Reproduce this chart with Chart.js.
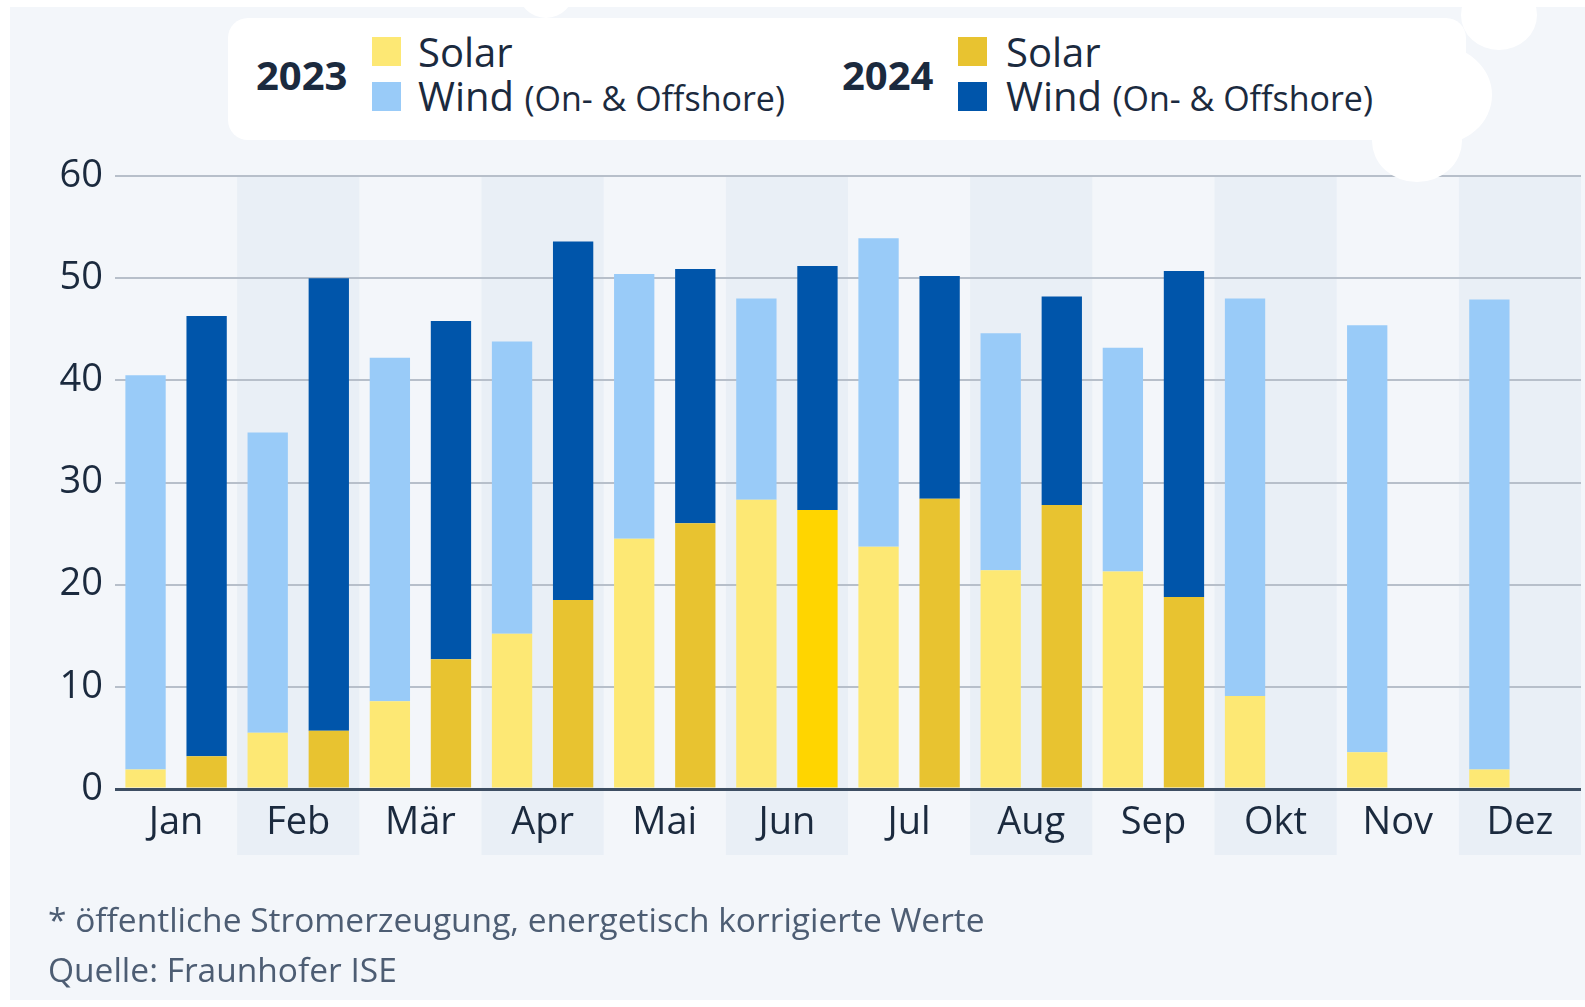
<!DOCTYPE html>
<html>
<head>
<meta charset="utf-8">
<script src="https://cdn.jsdelivr.net/npm/chart.js@4.4.1/dist/chart.umd.min.js"></script>
<style>
  body { margin: 0; width: 1585px; height: 1007px; overflow: hidden; background: #ffffff; font-family: "Open Sans", sans-serif; color: #1b2a3e; }
  #panel { position: absolute; left: 10px; top: 7px; width: 1575px; height: 993px; background: #f3f6fa; }
  #chart { position: absolute; left: 0; top: 0; }
  .blob { position: absolute; background: #ffffff; border-radius: 50%; }
  #legend { position: absolute; left: 228px; top: 18px; width: 1238px; height: 122px; background: #ffffff; border-radius: 20px; }
  .year { position: absolute; font-weight: 700; font-size: 40px; top: 32px; line-height: 50px; }
  .sw { position: absolute; width: 29px; height: 29px; }
  .lab { position: absolute; font-size: 40px; line-height: 44px; white-space: nowrap; }
  .lab small { font-size: 34px; }
  .note { position: absolute; left: 48px; font-size: 33.5px; color: #4d5d73; white-space: nowrap; }
</style>
</head>
<body>
<div id="panel"></div>
<canvas id="chart" width="1585" height="1007"></canvas>
<div id="legend">
  <div class="year" style="left:28px">2023</div>
  <div class="sw" style="left:144px;top:19px;background:#fde874"></div>
  <div class="sw" style="left:144px;top:64px;background:#99cbf8"></div>
  <div class="lab" style="left:190px;top:12px">Solar</div>
  <div class="lab" style="left:190px;top:56px">Wind <small>(On- &amp; Offshore)</small></div>
  <div class="year" style="left:614px">2024</div>
  <div class="sw" style="left:730px;top:19px;background:#e8c330"></div>
  <div class="sw" style="left:730px;top:64px;background:#0055aa"></div>
  <div class="lab" style="left:778px;top:12px">Solar</div>
  <div class="lab" style="left:778px;top:56px">Wind <small>(On- &amp; Offshore)</small></div>
</div>
<div class="blob" style="left:518px;top:-38px;width:56px;height:56px"></div>
<div class="blob" style="left:1461px;top:-20px;width:76px;height:70px"></div>
<div class="blob" style="left:1380px;top:45px;width:112px;height:100px"></div>
<div class="blob" style="left:1372px;top:100px;width:90px;height:82px"></div>
<div class="note" style="top:896px">* öffentliche Stromerzeugung, energetisch korrigierte Werte</div>
<div class="note" style="top:946px">Quelle: Fraunhofer ISE</div>
<script>
const months = ['Jan', 'Feb', 'Mär', 'Apr', 'Mai', 'Jun', 'Jul', 'Aug', 'Sep', 'Okt', 'Nov', 'Dez'];
const solar2023 = [1.9, 5.5, 8.6, 15.2, 24.5, 28.3, 23.7, 21.4, 21.3, 9.1, 3.6, 1.9];
const wind2023 = [38.6, 29.4, 33.6, 28.6, 25.9, 19.7, 30.2, 23.2, 21.9, 38.9, 41.8, 46.0];
const solar2024 = [3.2, 5.7, 12.7, 18.5, 26.0, 27.3, 28.4, 27.8, 18.8, null, null, null];
const wind2024 = [43.1, 44.3, 33.1, 35.1, 24.9, 23.9, 21.8, 20.4, 31.9, null, null, null];
const yTicks = [0, 10, 20, 30, 40, 50, 60];

const textColor = '#1b2a3e';
// June 2024 solar is highlighted in a brighter yellow
const solar2024Colors = months.map((m) => m === 'Jun' ? '#ffd500' : '#e8c330');

const monthBands = {
  id: 'monthBands',
  beforeDraw(chart) {
    const { ctx, chartArea } = chart;
    const x = chart.scales.x;
    const half = (chartArea.right - chartArea.left) / months.length / 2;
    ctx.save();
    ctx.fillStyle = '#e9eff6';
    months.forEach((m, i) => {
      if (i % 2 === 1) {
        const cx = x.getPixelForValue(i);
        ctx.fillRect(cx - half, chartArea.top, half * 2, 855 - chartArea.top);
      }
    });
    ctx.restore();
  }
};

new Chart(document.getElementById('chart').getContext('2d'), {
  type: 'bar',
  data: {
    labels: months,
    datasets: [
      { label: 'Solar 2023', data: solar2023, backgroundColor: '#fde874', stack: '2023' },
      { label: 'Wind 2023', data: wind2023, backgroundColor: '#99cbf8', stack: '2023' },
      { label: 'Solar 2024', data: solar2024, backgroundColor: solar2024Colors, stack: '2024' },
      { label: 'Wind 2024', data: wind2024, backgroundColor: '#0055aa', stack: '2024' }
    ]
  },
  options: {
    responsive: false,
    animation: false,
    layout: { padding: { left: 10, right: 4, top: 176, bottom: 152 } },
    datasets: {
      bar: { categoryPercentage: 1, barPercentage: 0.66, borderWidth: 0 }
    },
    plugins: {
      legend: { display: false },
      tooltip: { enabled: false }
    },
    scales: {
      x: {
        stacked: true,
        grid: { display: false },
        border: { display: false },
        ticks: { color: textColor, font: { family: 'Open Sans', size: 38 }, padding: 3 },
        afterFit: (scale) => { scale.height = 66; }
      },
      y: {
        stacked: true,
        min: 0,
        max: 60,
        afterBuildTicks: (scale) => { scale.ticks = yTicks.map((v) => ({ value: v })); },
        grid: {
          drawTicks: false,
          color: (c) => c.tick && c.tick.value === 0 ? '#3d4e63' : '#b7bfca',
          lineWidth: (c) => c.tick && c.tick.value === 0 ? 3 : 2
        },
        border: { display: false },
        ticks: { color: textColor, font: { family: 'Open Sans', size: 38 }, padding: 12 },
        afterFit: (scale) => { scale.width = 105; }
      }
    }
  },
  plugins: [monthBands]
});
</script>
</body>
</html>
